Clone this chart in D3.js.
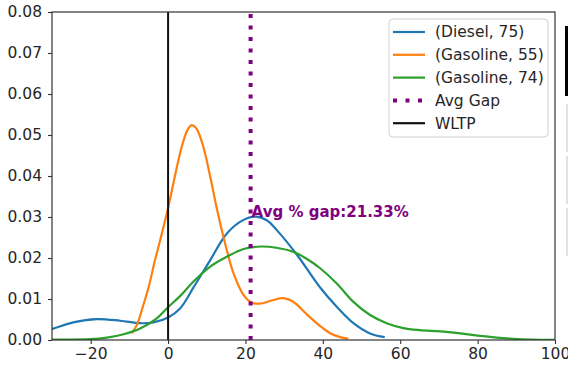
<!DOCTYPE html>
<html>
<head>
<meta charset="utf-8">
<script src="https://cdn.jsdelivr.net/npm/d3@7"></script>
<style>
  body { margin: 0; background: #fff; }
  svg { display: block; font-family: "DejaVu Sans", sans-serif; }
</style>
</head>
<body>
<div id="chart"></div>
<script>
// density curves: [gap %, density]
const diesel75 = [[-32, 0.0022], [-29.9, 0.0027], [-24.5, 0.0043], [-18.4, 0.0051], [-12.4, 0.0047],
  [-7.2, 0.0041], [-3.8, 0.0043], [0, 0.0055], [3.1, 0.0077], [6.5, 0.0127], [10.9, 0.0195],
  [15.2, 0.026], [19.5, 0.0293], [22.7, 0.0301], [25.5, 0.0292], [28.1, 0.0268], [33.3, 0.0208],
  [39.3, 0.0128], [43.6, 0.0081], [47.9, 0.0041], [52.2, 0.0016], [56, 0.0007]]
const gasoline55 = [[-9.4, 0.0016], [-8, 0.0038], [-6.5, 0.0082], [-5, 0.013], [-3.5, 0.019],
  [-2, 0.0245], [0, 0.0322], [2, 0.041], [3.5, 0.047], [5, 0.0512], [6.1, 0.0524], [7.3, 0.0516],
  [9, 0.0475], [10.9, 0.0398], [12.5, 0.0325], [14.3, 0.0252], [16.9, 0.0163], [19.5, 0.011],
  [21.6, 0.0091], [24, 0.0089], [27, 0.0097], [29.8, 0.0102], [32.5, 0.0092], [35.8, 0.0063],
  [39.3, 0.0034], [42, 0.0016], [44.5, 0.0007], [46.6, 0.0003]]
const gasoline74 = [[-32, 0.0001], [-20, 0.0002], [-15.8, 0.0006], [-11.5, 0.0014], [-7.2, 0.0028],
  [-3, 0.0052], [0, 0.008], [3.1, 0.0107], [6.5, 0.0142], [10.9, 0.0179], [15.2, 0.0203],
  [19.5, 0.0222], [24, 0.0228], [28, 0.0225], [32.4, 0.0215], [36, 0.0197], [39.3, 0.0175],
  [43.6, 0.0138], [47.9, 0.0093], [52.2, 0.0061], [56.5, 0.0041], [60.8, 0.0029], [65.1, 0.0024],
  [70.3, 0.0021], [75.5, 0.0016], [80.6, 0.001], [84.9, 0.0006], [89.2, 0.0003], [94, 0.0001], [102, 0]]

const seriesNames = ['(Diesel, 75)', '(Gasoline, 55)', '(Gasoline, 74)']
const seriesData = [diesel75, gasoline55, gasoline74]
const avgGap = 21.33
const wltp = 0
const xTicks = [-20, 0, 20, 40, 60, 80, 100]
const yTicks = [0, 0.01, 0.02, 0.03, 0.04, 0.05, 0.06, 0.07, 0.08]
const legendLabels = seriesNames.concat(['Avg Gap', 'WLTP'])

const colors = ['#1f77b4', '#ff7f0e', '#2ca02c']

let margin = { top: 12, right: 13, bottom: 29, left: 52 },
    W = 568,
    H = 369,
    width = W - margin.left - margin.right,
    height = H - margin.top - margin.bottom;

let x = d3.scaleLinear().domain([-30, 100]).range([0, width])
let y = d3.scaleLinear().domain([0, 0.08]).range([height, 0])

let valueline = d3.line()
    .curve(d3.curveCatmullRom.alpha(0.5))
    .x(d => x(d[0]))
    .y(d => y(d[1]))

let root = d3.select("#chart").append("svg")
    .attr("width", W)
    .attr("height", H)

let svg = root.append("g")
    .attr("transform", `translate(${margin.left},${margin.top})`)

svg.append("clipPath").attr("id", "plotclip")
  .append("rect")
    .attr("width", width)
    .attr("height", height)

// density lines
svg.append("g").attr("clip-path", "url(#plotclip)")
  .selectAll("path")
  .data(seriesData)
  .join("path")
    .attr("d", valueline)
    .attr("fill", "none")
    .attr("stroke", (d, i) => colors[i])
    .attr("stroke-width", 2.2)

// WLTP line
svg.append("line")
    .attr("x1", x(wltp)).attr("x2", x(wltp))
    .attr("y1", height).attr("y2", 0)
    .attr("stroke", "#111")
    .attr("stroke-width", 2)

// average gap line, dashes start at the bottom as in matplotlib
svg.append("line")
    .attr("x1", x(avgGap)).attr("x2", x(avgGap))
    .attr("y1", height).attr("y2", 0)
    .attr("stroke", "purple")
    .attr("stroke-width", 4)
    .attr("stroke-dasharray", "4,7.5")

svg.append("text")
    .attr("x", x(avgGap) + 1)
    .attr("y", y(0.03))
    .attr("fill", "purple")
    .attr("font-size", "15px")
    .attr("font-weight", "bold")
    .text(`Avg % gap:${avgGap}%`)

// axes
let xAxis = d3.axisBottom(x).tickValues(xTicks).tickSize(4).tickPadding(4).tickSizeOuter(0)
let yAxis = d3.axisLeft(y).tickValues(yTicks).tickFormat(d3.format(".2f")).tickSize(4).tickPadding(6).tickSizeOuter(0)

formatAxis = g => g
    .call(g => g.select(".domain").remove())
    .call(g => g.selectAll(".tick line").attr("stroke", "#333").attr("stroke-width", 1.1))
    .call(g => g.selectAll(".tick text")
        .attr("fill", "#262626")
        .attr("font-size", "15.5px")
        .attr("font-family", "DejaVu Sans, sans-serif"))

svg.append("g")
    .attr("transform", `translate(0,${height})`)
    .call(xAxis)
    .call(formatAxis)

svg.append("g")
    .call(yAxis)
    .call(formatAxis)

// frame
svg.append("rect")
    .attr("width", width)
    .attr("height", height)
    .attr("fill", "none")
    .attr("stroke", "#333")
    .attr("stroke-width", 1.2)

// legend, upper right inside the axes
let legend = svg.append("g")
    .attr("transform", `translate(${width - 166},7)`)

legend.append("rect")
    .attr("width", 159)
    .attr("height", 118)
    .attr("rx", 4)
    .attr("fill", "#fff")
    .attr("fill-opacity", 0.8)
    .attr("stroke", "#d0d0d0")

let rows = legend.selectAll(".row")
  .data(legendLabels)
  .join("g")
    .attr("class", "row")
    .attr("transform", (d, i) => `translate(0,${13 + i * 22.8})`)

rows.append("line")
    .attr("x1", 4).attr("x2", 36)
    .attr("stroke", (d, i) => i < 3 ? colors[i] : (i === 3 ? "purple" : "#111"))
    .attr("stroke-width", (d, i) => i === 3 ? 4 : 2.2)
    .attr("stroke-dasharray", (d, i) => i === 3 ? "4,8.5" : null)

rows.append("text")
    .attr("x", 46)
    .attr("dy", "0.35em")
    .attr("font-size", "15.5px")
    .attr("fill", "#262626")
    .text(d => d)

// bits of the neighbouring panel visible at the right edge
root.append("rect").attr("x", 565).attr("y", 26).attr("width", 3).attr("height", 70).attr("fill", "#000")
root.selectAll(".side")
  .data([104, 156, 208])
  .join("rect")
    .attr("class", "side")
    .attr("x", 566).attr("y", d => d)
    .attr("width", 2).attr("height", 48)
    .attr("fill", "#e2e2e2")
</script>
</body>
</html>
